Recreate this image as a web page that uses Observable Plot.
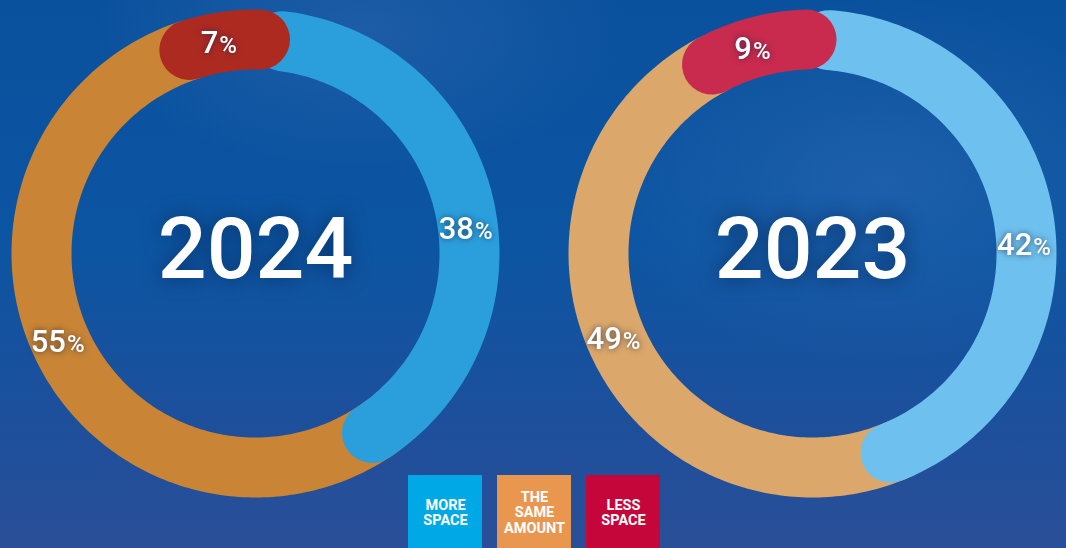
<!DOCTYPE html>
<html>
<head>
<meta charset="utf-8">
<script src="https://cdn.jsdelivr.net/npm/d3@7"></script>
<script src="https://cdn.jsdelivr.net/npm/@observablehq/plot@0.6"></script>
<style>
  html, body { margin: 0; padding: 0; }
  body {
    width: 1066px; height: 548px; overflow: hidden;
    background:
      radial-gradient(ellipse 420px 260px at 880px 180px, rgba(70,120,190,0.30), rgba(70,120,190,0) 70%),
      radial-gradient(ellipse 380px 200px at 360px 30px, rgba(80,120,190,0.28), rgba(80,120,190,0) 70%),
      linear-gradient(180deg, #0a519d 0%, #0c55a2 45%, #1f4f9b 80%, #2a4f98 100%);
    font-family: Roboto, "Open Sans", sans-serif;
  }
  #chart svg { display: block; }
</style>
</head>
<body>
<div id="chart"></div>
<script>
// ---- data ----
const years = ["2024", "2023"];
const categories = ["More space", "The same amount", "Less space"];
const moreSpace = [38, 42];
const sameAmount = [55, 49];
const lessSpace = [7, 9];
const legendLabels = ["MORE\nSPACE", "THE\nSAME\nAMOUNT", "LESS\nSPACE"];
const legendColors = ["#00a9e6", "#e9964f", "#c5063a"];
const ringColors = [
  {more: "#2b9fdc", same: "#c98535", less: "#ad2a21"},
  {more: "#6ec1ee", same: "#dba76b", less: "#c92b4e"}
];

// ---- layout ----
const W = 1066, H = 548;
const centers = [[255, 253], [812, 253]];
const startAngles = [-18, -28];
const R = 214, ringW = 60;
const capDeg = (ringW / 2) / R * 180 / Math.PI;
const redTrim = 6;

function arcPoints(cx, cy, a0, a1) {
  const pts = [];
  const n = Math.max(2, Math.ceil(Math.abs(a1 - a0)));
  for (let i = 0; i <= n; i++) {
    const a = (a0 + (a1 - a0) * i / n) * Math.PI / 180;
    pts.push({x: cx + R * Math.sin(a), y: cy - R * Math.cos(a)});
  }
  return pts;
}
function polar(cx, cy, a, r = R) {
  const t = a * Math.PI / 180;
  return {x: cx + r * Math.sin(t), y: cy - r * Math.cos(t)};
}

const marks = [];
const labels = [];
years.forEach((yr, i) => {
  const [cx, cy] = centers[i];
  const s = startAngles[i];
  const rDeg = lessSpace[i] * 3.6, bDeg = moreSpace[i] * 3.6;
  const red = [s, s + rDeg - redTrim];
  const blue = [s + rDeg, s + rDeg + bDeg + 3];
  const orange = [s + rDeg + bDeg, s + 360];
  const c = ringColors[i];
  const opts = col => ({x: "x", y: "y", stroke: col, strokeWidth: ringW, strokeLinecap: "round", strokeLinejoin: "round"});
  marks.push(Plot.line(arcPoints(cx, cy, orange[0], orange[1]), opts(c.same)));
  marks.push(Plot.line(arcPoints(cx, cy, blue[0], blue[1]), opts(c.more)));
  marks.push(Plot.line(arcPoints(cx, cy, red[0], red[1]), opts(c.less)));
  // label angles: around midpoints of visible parts
  const redMid = (red[0] + red[1]) / 2 - 1;
  const blueMid = ((red[1] + capDeg) + (blue[1] + capDeg)) / 2 + 1;
  const orangeMid = ((blue[1] + capDeg) + (orange[1] - capDeg)) / 2 + 1.5;
  [[lessSpace[i], redMid], [moreSpace[i], blueMid], [sameAmount[i], orangeMid]].forEach(([v, a]) => {
    const p = polar(cx, cy, a);
    const dw = String(v).length * 16.5, pw = 21;
    labels.push({x: p.x, y: p.y, split: p.x + (dw - pw) / 2, num: String(v), pct: "%"});
  });
});

const yearData = years.map((yr, i) => ({x: centers[i][0], y: centers[i][1], year: yr}));
const legendData = legendLabels.map((t, i) => ({
  i, label: t, color: legendColors[i],
  x1: 408 + i * 89, x2: 482 + i * 89
}));

const chart = Plot.plot({
  width: W, height: H, margin: 0,
  x: {domain: [0, W], range: [0, W], axis: null},
  y: {domain: [0, H], range: [0, H], axis: null},
  style: {background: "transparent", overflow: "visible"},
  marks: [
    ...marks,
    Plot.text(yearData, {x: d => d.x, y: d => d.y + 24, text: "year", fill: "white", fontSize: 86, fontWeight: 500, fontFamily: "Roboto", lineAnchor: "bottom", textAnchor: "middle", letterSpacing: "-5px"}),
    Plot.text(labels, {x: "split", y: d => d.y + 11, text: "num", fill: "white", fontSize: 31, fontWeight: 500, fontFamily: "Roboto", lineAnchor: "bottom", textAnchor: "end", letterSpacing: "-1.5px"}),
    Plot.text(labels, {x: d => d.split + 1, y: d => d.y + 11, text: "pct", fill: "white", fontSize: 24, fontWeight: 500, fontFamily: "Roboto", lineAnchor: "bottom", textAnchor: "start"}),
    Plot.rect(legendData, {x1: "x1", x2: "x2", y1: 475, y2: 548, fill: "color"}),
    Plot.text(legendData, {x: d => (d.x1 + d.x2) / 2, y: 512, text: "label", fill: "white", fontSize: 14.5, fontWeight: 700, fontFamily: "Roboto", lineHeight: 1.05, textAnchor: "middle", lineAnchor: "middle", letterSpacing: "-0.6px"})
  ]
});
document.getElementById("chart").appendChild(chart);

// soft shadows on text
d3.select(chart).selectAll("g[font-size='86'] text").style("filter", "drop-shadow(0 0 10px rgba(5,40,90,0.8))");
d3.select(chart).selectAll("g[font-size='31'] text, g[font-size='24'] text").style("filter", "drop-shadow(0 0 3px rgba(20,30,60,0.7))");
</script>
</body>
</html>
